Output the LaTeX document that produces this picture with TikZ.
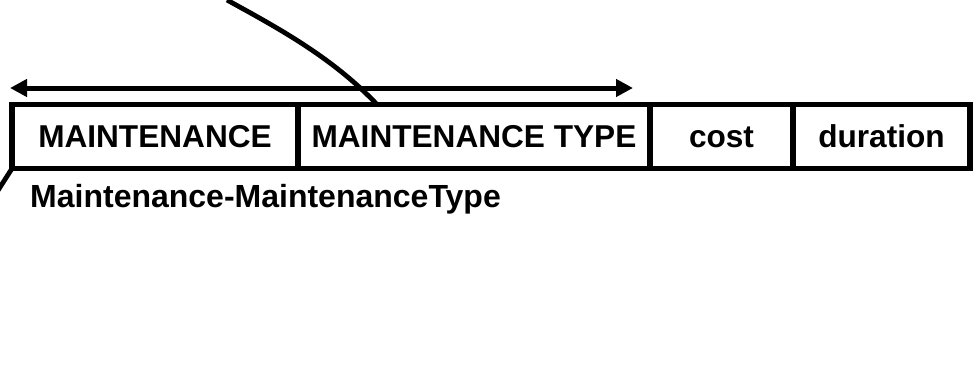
\documentclass[tikz,border=0pt]{standalone}
\usepackage{fontspec}
\setmainfont{Liberation Sans}
\usetikzlibrary{arrows.meta}
\begin{document}
\begin{tikzpicture}[x=1pt,y=-1pt,
  cell/.style={draw,line width=5.5pt,minimum height=64pt,inner sep=0pt,outer sep=0pt,anchor=north west,
    text height=22pt,text depth=1pt,font=\fontsize{31.6}{36}\selectfont\bfseries},
  conn/.style={line width=4.8pt},
  lbl/.style={inner sep=0pt,font=\fontsize{32}{36}\selectfont\bfseries}]
\useasboundingbox (0,0) rectangle (980,375);
\clip (0,0) rectangle (980,375);
\node[cell,minimum width=286pt] (c1) at (12,104.5) {MAINTENANCE};
\node[cell,minimum width=352pt] (c2) at (298,104.5) {MAINTENANCE TYPE};
\node[cell,minimum width=143pt] (c3) at (650,104.5) {cost};
\node[cell,minimum width=177pt] (c4) at (793,104.5) {duration};
\node[lbl,anchor=base west] (rel) at (30,207) {Maintenance-MaintenanceType};
\coordinate (al) at (10,88);
\coordinate (ar) at (633,88);
\draw[line width=5pt,{Triangle[length=17pt,width=17pt]}-{Triangle[length=17pt,width=17pt]}] (al) -- (ar);
\coordinate (ctop) at (227,0);
\coordinate (cend) at (377,104.5);
\draw[conn] (ctop) .. controls (277,27.5) and (332,57) .. (cend);
\coordinate (blt) at (-12,206);
\draw[conn] (c1.south west) -- (blt);
\end{tikzpicture}
\end{document}
